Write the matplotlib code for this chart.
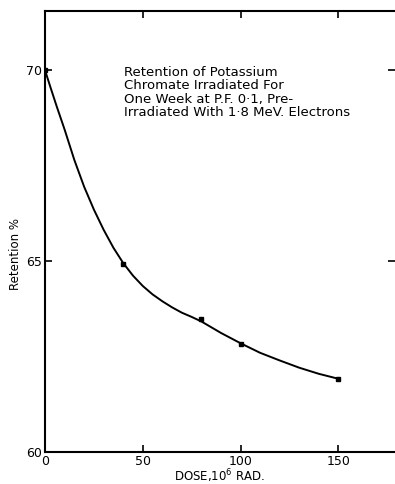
import matplotlib
matplotlib.use("Agg")
import matplotlib.pyplot as plt

# measured points
dose = [0, 40, 80, 100, 150]
retention = [70.0, 64.92, 63.48, 62.83, 61.91]

# hand-drawn smooth curve
curve_dose = [0, 3, 6, 10, 15, 20, 25, 30, 35, 40, 45, 50, 55, 60, 65, 70, 75, 80,
              90, 100, 110, 120, 130, 140, 150]
curve_ret = [70.0, 69.52, 69.05, 68.45, 67.65, 66.95, 66.35, 65.82, 65.35, 64.95,
             64.62, 64.35, 64.13, 63.95, 63.79, 63.65, 63.54, 63.42, 63.12, 62.85,
             62.6, 62.4, 62.21, 62.05, 61.92]

xticks = [0, 50, 100, 150]
yticks = [60, 65, 70]

title_lines = ["Retention of Potassium", "Chromate Irradiated For",
               "One Week at P.F. 0·1, Pre-", "Irradiated With 1·8 MeV. Electrons"]

fig = plt.figure(figsize=(3.95, 4.84), dpi=100)
ax = fig.add_axes([0.114, 0.066, 0.886, 0.911])

ax.plot(curve_dose, curve_ret, color="black", lw=1.4, solid_capstyle="round",
        solid_joinstyle="round")
ax.plot(dose, retention, ls="none", marker="s", ms=3.2, color="black")

ax.set_xlim(0, 179)
ax.set_ylim(60, 71.55)
ax.set_xticks(xticks)
ax.set_yticks(yticks)
ax.tick_params(direction="in", length=5, width=1.2, labelsize=9, pad=2,
               top=True, right=True)
for s in ["left", "bottom", "top"]:
    ax.spines[s].set_linewidth(1.5)
ax.spines["right"].set_visible(False)

ax.set_xlabel("DOSE,10$^{6}$ RAD.", fontsize=8.5, labelpad=0)
ax.set_ylabel("Retention %", fontsize=8.5)
ax.yaxis.set_label_coords(-0.065, 0.45)

ax.text(40.5, 69.42, "\n".join(title_lines), fontsize=9.5, va="center", ha="left",
        linespacing=1.05)

fig.savefig("out.png", dpi=100)
